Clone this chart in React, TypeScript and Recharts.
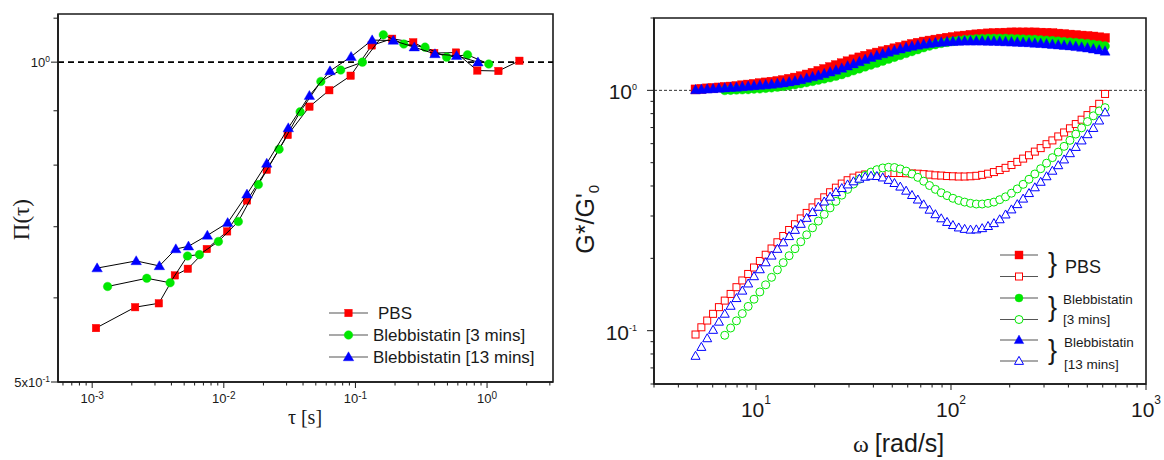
import React from 'react';
import { ScatterChart, Scatter, XAxis, YAxis, ReferenceLine, ReferenceArea } from 'recharts';

const SANS = '"Liberation Sans", Arial, Helvetica, sans-serif';
const SERIF = '"Liberation Serif", "Times New Roman", serif';
const INK = '#1a1a1a';
const RED = '#ff0000';
const GREEN = '#00e800';
const BLUE = '#0000ff';

// ---------- left panel: Π(τ) vs τ [s] ----------
const TAU_PBS = [0.00107, 0.00212, 0.00321, 0.00425, 0.00533, 0.00743, 0.0106, 0.015, 0.0212, 0.0306, 0.0447, 0.0633, 0.092, 0.133, 0.19, 0.275, 0.397, 0.581, 0.843, 1.22, 1.76];
const PI_PBS = [0.562, 0.588, 0.593, 0.63, 0.639, 0.667, 0.693, 0.741, 0.792, 0.854, 0.908, 0.941, 0.971, 1.037, 1.052, 1.044, 1.02, 1.021, 0.982, 0.981, 1.003];

const TAU_B3 = [0.00131, 0.0026, 0.00391, 0.0053, 0.00653, 0.0091, 0.0129, 0.0183, 0.0263, 0.038, 0.0546, 0.0773, 0.113, 0.163, 0.233, 0.338, 0.493, 0.711, 1.03];
const PI_B3 = [0.615, 0.626, 0.62, 0.657, 0.659, 0.678, 0.708, 0.767, 0.828, 0.898, 0.959, 0.983, 1.0, 1.061, 1.04, 1.033, 1.011, 1.016, 0.996];

const TAU_B13 = [0.00109, 0.00216, 0.00324, 0.00432, 0.00539, 0.0075, 0.0107, 0.015, 0.0212, 0.0309, 0.0447, 0.0641, 0.0927, 0.134, 0.194, 0.28, 0.402, 0.587, 0.853];
const PI_B13 = [0.64, 0.65, 0.643, 0.667, 0.671, 0.687, 0.706, 0.751, 0.803, 0.867, 0.93, 0.981, 1.012, 1.049, 1.048, 1.033, 1.018, 1.014, 1.0];

const LEFT_X_TICKS = [0.0006, 0.0007, 0.0008, 0.0009, 0.001, 0.002, 0.003, 0.004, 0.005, 0.006, 0.007, 0.008, 0.009, 0.01, 0.02, 0.03, 0.04, 0.05, 0.06, 0.07, 0.08, 0.09, 0.1, 0.2, 0.3, 0.4, 0.5, 0.6, 0.7, 0.8, 0.9, 1, 2, 3];
const LEFT_X_LABELS: Record<string, string> = { '0.001': '-3', '0.01': '-2', '0.1': '-1', '1': '0' };
const LEFT_Y_TICKS = [0.5, 0.6, 0.7, 0.8, 0.9, 1, 1.1];
const LEFT_Y_LABELS: Record<string, [string, string]> = { '0.5': ['5x10', '-1'], '1': ['10', '0'] };

// ---------- right panel: G*/G'0 vs ω [rad/s] ----------
const OMEGA = [4.898, 5.248, 5.623, 6.026, 6.457, 6.918, 7.413, 7.943, 8.511, 9.12, 9.772, 10.47, 11.22, 12.02, 12.88, 13.8, 14.79, 15.85, 16.98, 18.2, 19.5, 20.89, 22.39, 23.99, 25.7, 27.54, 29.51, 31.62, 33.88, 36.31, 38.9, 41.69, 44.67, 47.86, 51.29, 54.95, 58.88, 63.1, 67.61, 72.44, 77.62, 83.18, 89.13, 95.5, 102.3, 109.6, 117.5, 125.9, 134.9, 144.5, 154.9, 166.0, 177.8, 190.5, 204.2, 218.8, 234.4, 251.2, 269.2, 288.4, 309.0, 331.1, 354.8, 380.2, 407.4, 436.5, 467.7, 501.2, 537.0, 575.4, 616.6];

const GP_PBS = [1.009, 1.014, 1.019, 1.023, 1.028, 1.033, 1.037, 1.042, 1.05, 1.057, 1.064,
  1.072, 1.079, 1.086, 1.094, 1.104, 1.117, 1.13, 1.146, 1.164, 1.183,
  1.205, 1.227, 1.25, 1.274, 1.297, 1.321, 1.346, 1.371, 1.393, 1.416,
  1.436, 1.455, 1.476, 1.496, 1.517, 1.538, 1.56, 1.578, 1.596, 1.611,
  1.626, 1.641, 1.656, 1.667, 1.679, 1.69, 1.702, 1.71, 1.718, 1.726,
  1.73, 1.734, 1.738, 1.742, 1.742, 1.742, 1.742, 1.742, 1.738, 1.734,
  1.73, 1.722, 1.714, 1.706, 1.698, 1.69, 1.683, 1.675, 1.663, 1.652];
const GPP_PBS = [0.0964, 0.1033, 0.1102, 0.1175, 0.1253, 0.1334, 0.1422, 0.1517, 0.1618, 0.1722, 0.1832,
  0.195, 0.207, 0.2198, 0.2333, 0.2477, 0.2624, 0.2773, 0.2931, 0.309, 0.3258,
  0.342, 0.3589, 0.3767, 0.3936, 0.4093, 0.4227, 0.4335, 0.4416, 0.4467, 0.4498,
  0.452, 0.453, 0.453, 0.453, 0.453, 0.452, 0.451, 0.45, 0.448, 0.446,
  0.443, 0.442, 0.44, 0.439, 0.438, 0.438, 0.439, 0.441, 0.445, 0.45,
  0.457, 0.466, 0.476, 0.489, 0.504, 0.52, 0.537, 0.556, 0.575, 0.597,
  0.619, 0.643, 0.668, 0.695, 0.724, 0.755, 0.789, 0.828, 0.879, 0.966];

const GP_B3 = [null, null, null, null, null, 1.0, 1.002, 1.005, 1.007, 1.009, 1.014,
  1.016, 1.021, 1.026, 1.033, 1.04, 1.047, 1.057, 1.067, 1.079, 1.091,
  1.104, 1.117, 1.13, 1.146, 1.164, 1.186, 1.208, 1.23, 1.253, 1.276,
  1.3, 1.324, 1.349, 1.374, 1.4, 1.426, 1.452, 1.479, 1.507, 1.531,
  1.552, 1.57, 1.585, 1.6, 1.611, 1.622, 1.629, 1.637, 1.641, 1.644,
  1.644, 1.644, 1.644, 1.641, 1.637, 1.633, 1.629, 1.626, 1.618, 1.614,
  1.607, 1.6, 1.592, 1.585, 1.578, 1.57, 1.563, 1.552, 1.542, 1.528];
const GPP_B3 = [null, null, null, null, null, 0.0957, 0.1026, 0.1099, 0.1178, 0.1262, 0.1352,
  0.1449, 0.1552, 0.1667, 0.1791, 0.1919, 0.2051, 0.2193, 0.2344, 0.2506, 0.2679,
  0.2858, 0.3048, 0.3243, 0.3451, 0.3664, 0.3873, 0.4074, 0.4266, 0.4426, 0.4571,
  0.4677, 0.4753, 0.4786, 0.4775, 0.471, 0.4613, 0.4487, 0.4345, 0.4188, 0.4018,
  0.3873, 0.375, 0.3648, 0.3556, 0.3483, 0.3428, 0.3388, 0.3365, 0.3365, 0.3388,
  0.3428, 0.3508, 0.3606, 0.3733, 0.389, 0.4064, 0.4266, 0.4487, 0.4721, 0.4977,
  0.5248, 0.5534, 0.5848, 0.6194, 0.6577, 0.6982, 0.7413, 0.7834, 0.8204, 0.8472];

const GP_B13 = [1.005, 1.009, 1.012, 1.016, 1.019, 1.023, 1.028, 1.03, 1.035, 1.04, 1.045,
  1.05, 1.054, 1.059, 1.067, 1.074, 1.084, 1.094, 1.107, 1.122, 1.138,
  1.153, 1.172, 1.191, 1.213, 1.236, 1.262, 1.288, 1.315, 1.343, 1.371,
  1.396, 1.419, 1.442, 1.466, 1.486, 1.507, 1.524, 1.542, 1.556, 1.567,
  1.578, 1.585, 1.592, 1.596, 1.6, 1.603, 1.603, 1.603, 1.603, 1.6,
  1.6, 1.596, 1.592, 1.589, 1.585, 1.581, 1.578, 1.57, 1.567, 1.56,
  1.552, 1.545, 1.538, 1.531, 1.521, 1.51, 1.5, 1.486, 1.472, 1.455];
const GPP_B13 = [0.0785, 0.0855, 0.0929, 0.1007, 0.1089, 0.1175, 0.1268, 0.1365, 0.1466, 0.157, 0.1683,
  0.1799, 0.1923, 0.2051, 0.2188, 0.2328, 0.2472, 0.2624, 0.278, 0.2944, 0.3112,
  0.3273, 0.3443, 0.3606, 0.3767, 0.3917, 0.4055, 0.4178, 0.4285, 0.4365, 0.4406,
  0.4395, 0.4335, 0.4236, 0.4111, 0.3972, 0.3819, 0.3664, 0.3508, 0.335, 0.3184,
  0.3048, 0.2931, 0.2831, 0.2748, 0.2685, 0.2649, 0.263, 0.2636, 0.2667, 0.2723,
  0.2799, 0.2904, 0.3041, 0.3192, 0.3357, 0.354, 0.3733, 0.3945, 0.4159, 0.4385,
  0.4624, 0.4875, 0.5152, 0.547, 0.5808, 0.618, 0.6561, 0.6966, 0.7482, 0.8091];

const RIGHT_X_TICKS = [3, 4, 5, 6, 7, 8, 9, 10, 20, 30, 40, 50, 60, 70, 80, 90, 100, 200, 300, 400, 500, 600, 700, 800, 900, 1000];
const RIGHT_X_LABELS: Record<string, string> = { '10': '1', '100': '2', '1000': '3' };
const RIGHT_Y_TICKS = [0.06, 0.07, 0.08, 0.09, 0.1, 0.2, 0.3, 0.4, 0.5, 0.6, 0.7, 0.8, 0.9, 1, 2];
const RIGHT_Y_LABELS: Record<string, [string, string]> = { '0.1': ['10', '-1'], '1': ['10', '0'] };

const pairs = (xs: number[], ys: (number | null)[]) =>
  xs.map((x, i) => ({ x, y: ys[i] })).filter((d) => d.y != null);

// ---------- marker helpers ----------
const sq = (cx: number, cy: number, s: number, c: string, open = false) => (
  <rect x={cx - s / 2} y={cy - s / 2} width={s} height={s} fill={open ? '#fff' : c} stroke={c} strokeWidth={open ? 1 : 0.4} />
);
const ci = (cx: number, cy: number, r: number, c: string, open = false) => (
  <circle cx={cx} cy={cy} r={r} fill={open ? '#fff' : c} stroke={c} strokeWidth={open ? 1 : 0.4} />
);
const tri = (cx: number, cy: number, w: number, h: number, c: string, open = false) => (
  <polygon
    points={`${cx},${cy - h * 0.58} ${cx - w / 2},${cy + h * 0.42} ${cx + w / 2},${cy + h * 0.42}`}
    fill={open ? '#fff' : c} stroke={c} strokeWidth={open ? 1 : 0.4}
  />
);

// ---------- tick renderers ----------
type TickCfg = { major: number; minor: number; dy: number; font: number; sup: number; supDy: number };

const bottomTick = (labels: Record<string, string>, cfg: TickCfg) => (p: any) => {
  const exp = labels[String(p.payload.value)];
  const major = exp !== undefined;
  return (
    <g>
      <line x1={p.x} x2={p.x} y1={p.y} y2={p.y + (major ? cfg.major : cfg.minor)} stroke={INK} strokeWidth={1} />
      {major && (
        <text x={p.x} y={p.y + cfg.dy} textAnchor="middle" fontFamily={SANS} fontSize={cfg.font} fill={INK}>
          10<tspan dy={cfg.supDy} fontSize={cfg.sup}>{exp}</tspan>
        </text>
      )}
    </g>
  );
};

const leftTick = (labels: Record<string, [string, string]>, cfg: TickCfg & { gap: number }) => (p: any) => {
  const lab = labels[String(p.payload.value)];
  return (
    <g>
      <line x1={p.x - (lab ? cfg.major : cfg.minor)} x2={p.x} y1={p.y} y2={p.y} stroke={INK} strokeWidth={1} />
      {lab && (
        <text x={p.x - cfg.gap} y={p.y + cfg.dy} textAnchor="end" fontFamily={SANS} fontSize={cfg.font} fill={INK}>
          {lab[0]}<tspan dy={cfg.supDy} fontSize={cfg.sup}>{lab[1]}</tspan>
        </text>
      )}
    </g>
  );
};

const LX_DOM = [0.00055, 3.17];
const LY_DOM = [0.5, 1.11];
const RX_DOM = [3, 1000];
const RY_DOM = [0.06, 2];

function LeftChart() {
  return (
    <ScatterChart width={580} height={460} margin={{ top: 14, right: 27, bottom: 0, left: 0 }}>
      <XAxis type="number" dataKey="x" scale="log" domain={LX_DOM} allowDataOverflow ticks={LEFT_X_TICKS} interval={0}
        tick={bottomTick(LEFT_X_LABELS, { major: 6, minor: 3.5, dy: 21, font: 13, sup: 10, supDy: -4 })}
        tickLine={false} tickSize={0} tickMargin={0} height={78} axisLine={{ stroke: INK, strokeWidth: 1.6 }} />
      <YAxis type="number" dataKey="y" scale="log" domain={LY_DOM} allowDataOverflow ticks={LEFT_Y_TICKS} interval={0}
        tick={leftTick(LEFT_Y_LABELS, { major: 7, minor: 4.5, dy: 4.5, font: 13, sup: 8.5, supDy: -5, gap: 8 })}
        tickLine={false} tickSize={0} tickMargin={0} width={58} axisLine={{ stroke: INK, strokeWidth: 1.6 }} />
      <ReferenceArea x1={LX_DOM[0]} x2={LX_DOM[1]} y1={LY_DOM[0]} y2={LY_DOM[1]} fill="none" stroke={INK} strokeWidth={1.6} />
      <ReferenceLine y={1} stroke="#000" strokeWidth={1.6} strokeDasharray="6 4" />
      <Scatter data={pairs(TAU_PBS, PI_PBS)} line={{ stroke: '#000', strokeWidth: 1 }} isAnimationActive={false}
        shape={(p: any) => sq(p.cx, p.cy, 7.5, RED)} />
      <Scatter data={pairs(TAU_B3, PI_B3)} line={{ stroke: '#000', strokeWidth: 1 }} isAnimationActive={false}
        shape={(p: any) => ci(p.cx, p.cy, 4.3, GREEN)} />
      <Scatter data={pairs(TAU_B13, PI_B13)} line={{ stroke: '#000', strokeWidth: 1 }} isAnimationActive={false}
        shape={(p: any) => tri(p.cx, p.cy, 10.5, 9, BLUE)} />
    </ScatterChart>
  );
}

function RightChart() {
  return (
    <ScatterChart width={584} height={460} margin={{ top: 18, right: 18, bottom: 0, left: 0 }}>
      <XAxis type="number" dataKey="x" scale="log" domain={RX_DOM} allowDataOverflow ticks={RIGHT_X_TICKS} interval={0}
        tick={bottomTick(RIGHT_X_LABELS, { major: 6, minor: 3.5, dy: 33, font: 21, sup: 12, supDy: -13 })}
        tickLine={false} tickSize={0} tickMargin={0} height={76} axisLine={{ stroke: INK, strokeWidth: 1.6 }} />
      <YAxis type="number" dataKey="y" scale="log" domain={RY_DOM} allowDataOverflow ticks={RIGHT_Y_TICKS} interval={0}
        tick={leftTick(RIGHT_Y_LABELS, { major: 7, minor: 3.5, dy: 9, font: 21, sup: 9, supDy: -9, gap: 17 })}
        tickLine={false} tickSize={0} tickMargin={0} width={74} axisLine={{ stroke: INK, strokeWidth: 1.6 }} />
      <ReferenceArea x1={RX_DOM[0]} x2={RX_DOM[1]} y1={RY_DOM[0]} y2={RY_DOM[1]} fill="none" stroke={INK} strokeWidth={1.6} />
      <ReferenceLine y={1} stroke="#333" strokeWidth={1} strokeDasharray="3 2" />
      <Scatter data={pairs(OMEGA, GP_PBS)} isAnimationActive={false} shape={(p: any) => sq(p.cx, p.cy, 9, RED)} />
      <Scatter data={pairs(OMEGA, GPP_PBS)} isAnimationActive={false} shape={(p: any) => sq(p.cx, p.cy, 7, RED, true)} />
      <Scatter data={pairs(OMEGA, GP_B3)} isAnimationActive={false} shape={(p: any) => ci(p.cx, p.cy, 4.5, GREEN)} />
      <Scatter data={pairs(OMEGA, GPP_B3)} isAnimationActive={false} shape={(p: any) => ci(p.cx, p.cy, 4, GREEN, true)} />
      <Scatter data={pairs(OMEGA, GP_B13)} isAnimationActive={false} shape={(p: any) => tri(p.cx, p.cy, 10, 9.5, BLUE)} />
      <Scatter data={pairs(OMEGA, GPP_B13)} isAnimationActive={false} shape={(p: any) => tri(p.cx, p.cy, 9, 8, BLUE, true)} />
    </ScatterChart>
  );
}

const LEFT_LEGEND = [
  { label: 'PBS', tx: 378, mark: (x: number, y: number) => sq(x, y, 7.5, RED) },
  { label: 'Blebbistatin [3 mins]', tx: 373, mark: (x: number, y: number) => ci(x, y, 4.3, GREEN) },
  { label: 'Blebbistatin [13 mins]', tx: 373, mark: (x: number, y: number) => tri(x, y, 10.5, 9, BLUE) },
];
const RIGHT_LEGEND_MARKS = [
  (x: number, y: number) => sq(x, y, 8, RED),
  (x: number, y: number) => sq(x, y, 7, RED, true),
  (x: number, y: number) => ci(x, y, 4, GREEN),
  (x: number, y: number) => ci(x, y, 4, GREEN, true),
  (x: number, y: number) => tri(x, y, 9.5, 8.5, BLUE),
  (x: number, y: number) => tri(x, y, 9, 8, BLUE, true),
];
const RIGHT_ROWS = [255, 276.5, 298, 319.5, 340, 361];

function Overlay() {
  return (
    <svg width={1164} height={460} style={{ position: 'absolute', left: 0, top: 0, pointerEvents: 'none' }}>
      {/* axis titles */}
      <text x={305} y={424} textAnchor="middle" fontFamily={SERIF} fontSize={20} fill={INK}>τ [s]</text>
      <text transform="translate(28.5,199) rotate(-90)" textAnchor="end" fontFamily={SERIF} fontSize={23} fill={INK}>Π(τ)</text>
      <text x={853} y={452} fill={INK}>
        <tspan fontFamily={SERIF} fontSize={24}>ω</tspan>
        <tspan dx={6} fontFamily={SANS} fontSize={25}>[rad/s]</tspan>
      </text>
      <text transform="translate(594,185) rotate(-90)" textAnchor="end" fontFamily={SANS} fontSize={25} fill={INK}>
        G*/G'<tspan dy={5} fontSize={15}>0</tspan>
      </text>

      {/* left legend */}
      {LEFT_LEGEND.map((r, i) => {
        const y = 313 + i * 22;
        return (
          <g key={r.label}>
            <line x1={329} x2={368} y1={y} y2={y} stroke="#555" strokeWidth={1.2} />
            {r.mark(348.5, y)}
            <text x={r.tx} y={y + 6} fontFamily={SANS} fontSize={17} fill={INK}>{r.label}</text>
          </g>
        );
      })}

      {/* right legend */}
      {RIGHT_ROWS.map((y, i) => (
        <g key={i}>
          <line x1={1000} x2={1038} y1={y} y2={y} stroke="#555" strokeWidth={1.2} />
          {RIGHT_LEGEND_MARKS[i](1019, y)}
        </g>
      ))}
      <text x={1048} y={272} fontFamily={SANS} fontSize={27} fill={INK}>{'}'}</text>
      <text x={1048} y={316} fontFamily={SANS} fontSize={27} fill={INK}>{'}'}</text>
      <text x={1048} y={359} fontFamily={SANS} fontSize={27} fill={INK}>{'}'}</text>
      <text x={1065} y={272.5} fontFamily={SANS} fontSize={18} fill={INK}>PBS</text>
      <text x={1063} y={304} fontFamily={SANS} fontSize={13.5} fill={INK}>Blebbistatin</text>
      <text x={1063} y={323.5} fontFamily={SANS} fontSize={13.5} fill={INK}>[3 mins]</text>
      <text x={1064} y={347} fontFamily={SANS} fontSize={13.5} fill={INK}>Blebbistatin</text>
      <text x={1064} y={369} fontFamily={SANS} fontSize={13.5} fill={INK}>[13 mins]</text>
    </svg>
  );
}

export default function App() {
  return (
    <div style={{ position: 'absolute', left: 0, top: 0, width: 1164, height: 460, background: '#fff' }}>
      <div style={{ position: 'absolute', left: 0, top: 0 }}>
        <LeftChart />
      </div>
      <div style={{ position: 'absolute', left: 580, top: 0 }}>
        <RightChart />
      </div>
      <Overlay />
    </div>
  );
}
